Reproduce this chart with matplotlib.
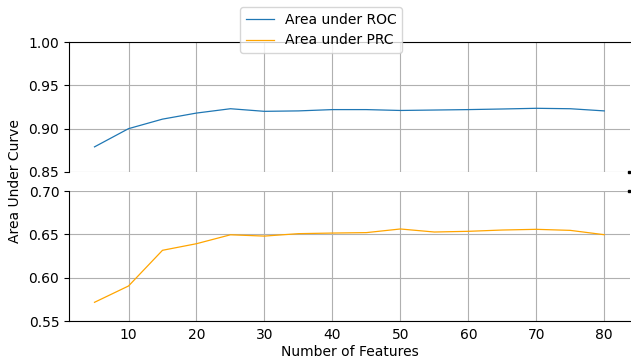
import matplotlib
matplotlib.use("Agg")
import matplotlib.pyplot as plt

n_features = [5, 10, 15, 20, 25, 30, 35, 40, 45, 50, 55, 60, 65, 70, 75, 80]
auc_roc = [0.879, 0.900, 0.911, 0.918, 0.923, 0.920, 0.9205, 0.922, 0.922,
           0.921, 0.9215, 0.922, 0.9227, 0.9235, 0.923, 0.9205]
auc_prc = [0.5716, 0.5904, 0.6316, 0.6392, 0.6495, 0.648, 0.6508, 0.6515,
           0.652, 0.6562, 0.6527, 0.6535, 0.655, 0.6558, 0.6546, 0.6496]

fig = plt.figure(figsize=(6.31, 3.59), dpi=100)
ax1 = fig.add_axes([0.1094, 0.5209, 0.8886, 0.3621])
ax2 = fig.add_axes([0.1094, 0.1058, 0.8886, 0.3621], sharex=ax1)

l1, = ax1.plot(n_features, auc_roc, color='tab:blue', lw=0.9, label='Area under ROC')
l2, = ax2.plot(n_features, auc_prc, color='orange', lw=0.9, label='Area under PRC')

ax1.set_ylim(0.85, 1.00)
ax2.set_ylim(0.55, 0.70)
ax1.set_yticks([0.85, 0.90, 0.95, 1.00])
ax2.set_yticks([0.55, 0.60, 0.65, 0.70])
ax2.set_xticks([10, 20, 30, 40, 50, 60, 70, 80])

for ax in (ax1, ax2):
    ax.grid(True, color='#b0b0b0', lw=0.8)
    ax.spines['right'].set_visible(False)
    ax.tick_params(labelsize=10)

ax1.spines['bottom'].set_visible(False)
ax2.spines['top'].set_visible(False)
ax1.tick_params(bottom=False, labelbottom=False)
ax2.tick_params(axis='x', length=0, pad=5)

# small break marks where the axis is cut
kw = dict(transform=ax1.transAxes, color='k', clip_on=False, marker='s', ms=1.5, ls='none')
ax1.plot([0.998], [0], **kw)
kw.update(transform=ax2.transAxes)
ax2.plot([0.998], [1], **kw)

ax2.set_xlabel('Number of Features', fontsize=10, labelpad=2)
fig.text(0.024, 0.495, 'Area Under Curve', rotation=90, ha='center', va='center', fontsize=10)

fig.legend(handles=[l1, l2], loc='upper center', bbox_to_anchor=(0.509, 1.0), fontsize=10)

fig.savefig('out.png', dpi=100)
